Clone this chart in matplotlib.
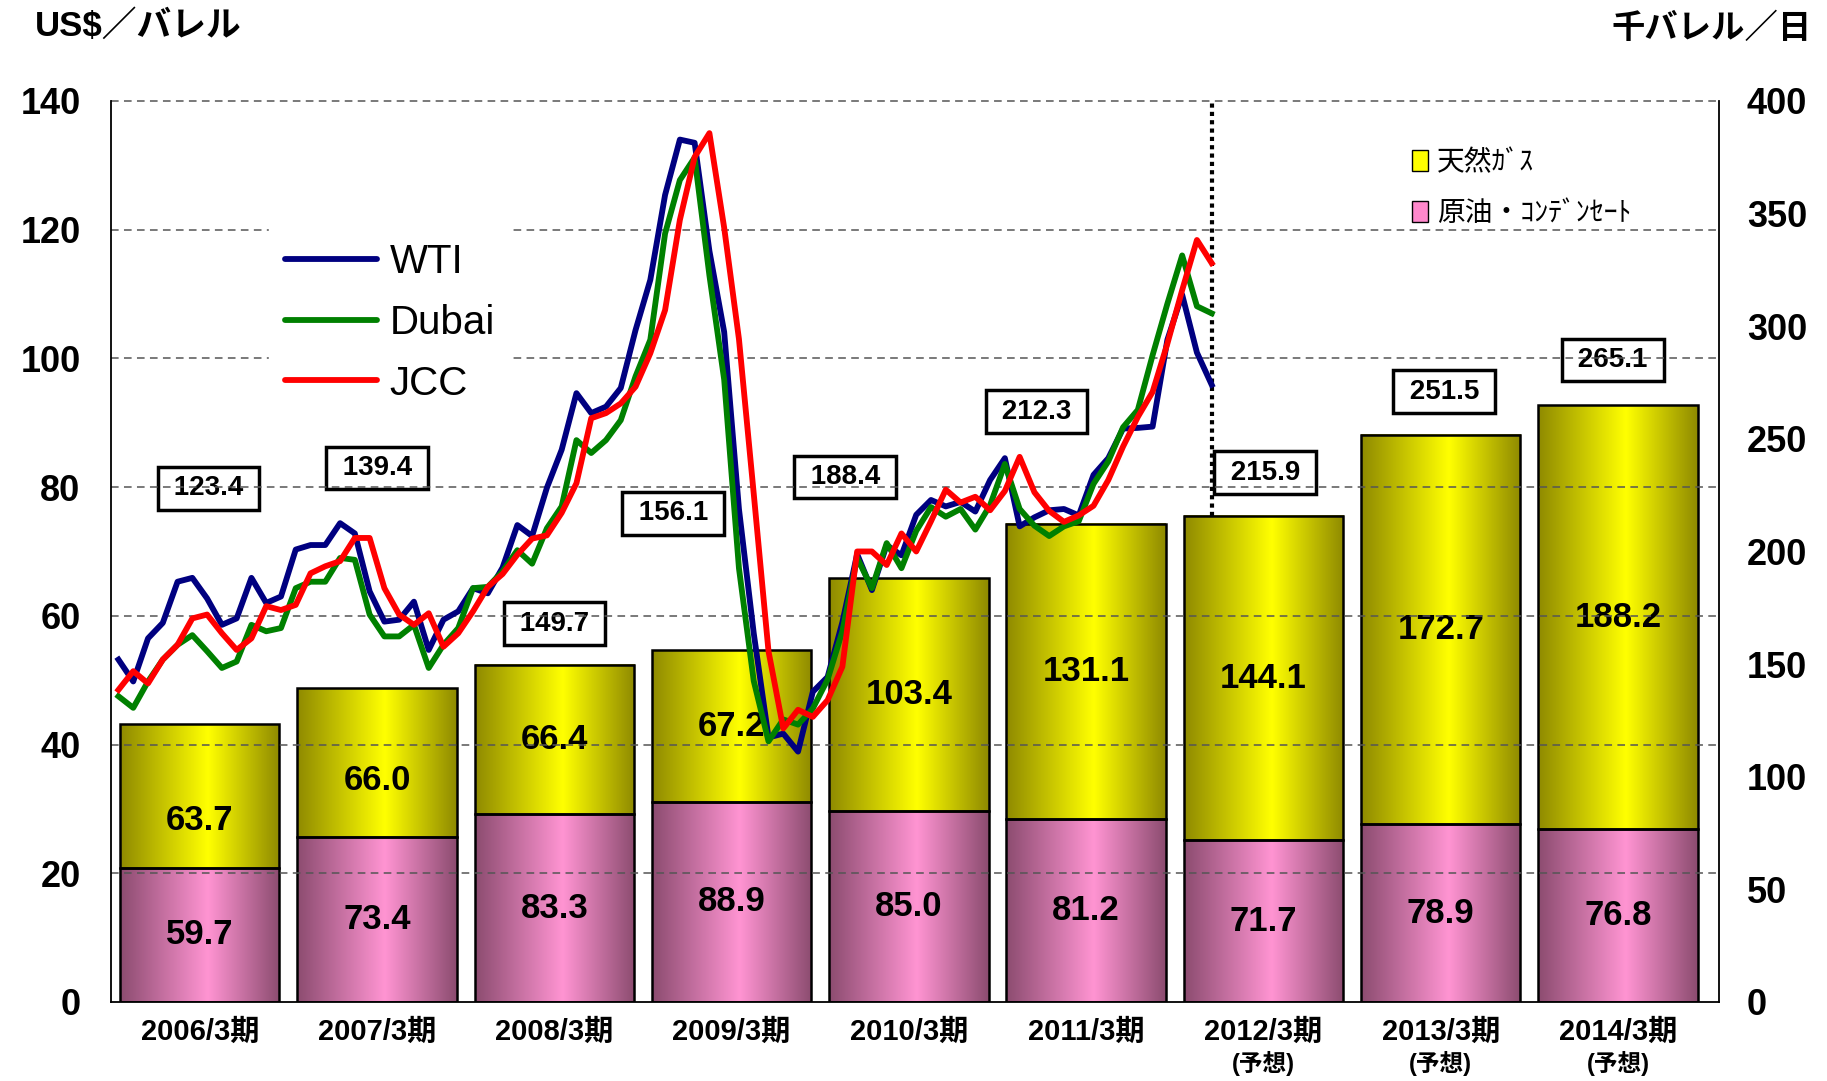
import matplotlib
matplotlib.use("Agg")
import matplotlib.pyplot as plt
import numpy as np
from matplotlib.colors import LinearSegmentedColormap
from matplotlib.patches import Patch

plt.rcParams["font.family"] = ["Liberation Sans", "Noto Sans CJK JP"]

# fiscal years (bars, right axis: 千バレル/日)
periods = ["2006/3期", "2007/3期", "2008/3期", "2009/3期", "2010/3期",
           "2011/3期", "2012/3期", "2013/3期", "2014/3期"]
forecast = [False, False, False, False, False, False, True, True, True]
crude = [59.7, 73.4, 83.3, 88.9, 85.0, 81.2, 71.7, 78.9, 76.8]
gas = [63.7, 66.0, 66.4, 67.2, 103.4, 131.1, 144.1, 172.7, 188.2]
totals = [123.4, 139.4, 149.7, 156.1, 188.4, 212.3, 215.9, 251.5, 265.1]

# monthly prices Apr 2005 - Jun 2011 (left axis: US$/バレル)
wti = [53.2, 49.8, 56.5, 58.9, 65.3, 65.9, 62.7, 58.6, 59.6,
       65.9, 62.0, 63.0, 70.3, 71.0, 71.0, 74.4, 72.8, 63.8, 59.1, 59.4, 62.2,
       54.7, 59.4, 60.7, 64.3, 63.5, 67.5, 74.1, 72.4, 79.9, 85.8, 94.6, 91.5,
       92.5, 95.4, 104.4, 112.2, 125.4, 134.0, 133.5, 116.7, 104.1, 76.6, 57.3, 41.1,
       41.7, 38.9, 48.2, 50.5, 59.0, 69.6, 64.0, 71.0, 69.4, 75.7, 78.0, 77.0,
       77.7, 76.2, 81.1, 84.5, 73.9, 75.3, 76.4, 76.6, 75.6, 81.9, 84.5, 89.1,
       89.2, 89.4, 102.9, 109.9, 100.9, 95.9]
dubai = [47.5, 45.7, 49.8, 53.2, 55.5, 57.0, 54.5, 51.9, 52.9,
         58.6, 57.6, 58.1, 64.3, 65.3, 65.3, 69.0, 68.7, 60.2, 56.8, 56.8, 58.6,
         51.9, 55.5, 58.1, 64.3, 64.5, 66.9, 70.2, 68.1, 73.6, 77.0, 87.3, 85.3,
         87.3, 90.4, 97.2, 102.9, 119.4, 127.7, 131.2, 112.9, 96.7, 67.4, 49.9, 40.5,
         43.9, 43.1, 45.6, 50.1, 57.6, 69.0, 64.3, 71.3, 67.4, 73.2, 76.9, 75.4,
         76.6, 73.4, 77.2, 83.6, 76.6, 74.0, 72.4, 73.9, 74.7, 80.5, 84.0, 89.3,
         92.0, 100.5, 108.5, 116.0, 108.1, 107.0]
jcc = [48.5, 51.4, 49.5, 53.2, 55.5, 59.6, 60.2, 57.3, 54.7,
       56.5, 61.5, 60.9, 61.7, 66.6, 67.7, 68.5, 72.1, 72.1, 64.3, 60.2, 58.6,
       60.4, 55.2, 57.3, 60.7, 64.5, 66.5, 69.5, 72.0, 72.5, 76.0, 80.6, 90.7,
       91.5, 93.0, 95.6, 100.8, 107.5, 121.5, 131.3, 135.0, 120.3, 103.0, 79.0, 54.5,
       42.5, 45.4, 44.3, 46.9, 52.1, 70.0, 70.0, 67.9, 72.8, 70.0, 74.7, 79.6,
       77.6, 78.5, 76.4, 79.4, 84.7, 79.2, 76.3, 74.6, 75.6, 77.1, 81.1, 86.3,
       90.9, 94.8, 102.3, 110.6, 118.4, 114.8]

# layout of the total boxes (x shift in slots, y in right-axis units)
box_dx = [0.05, 0.0, 0.0, -0.33, -0.36, -0.28, 0.01, 0.02, -0.03]
box_y = [228, 237, 168, 217, 233, 262, 235, 271, 285]
gas_shift = [-11, -8, 0, 0, 0, 0, 0, 0, 0]

fig = plt.figure(figsize=(18.27, 10.81), dpi=100)
ax_bar = fig.add_axes([0.0608, 0.0731, 0.8801, 0.8335])
ax_line = ax_bar.twinx()
x_max = 8.57

# gradient bars
g = np.linspace(0, 1, 256)
profile = np.where(g < 0.55, g / 0.55, (1 - g) / 0.45)[None, :]
yellow_cmap = LinearSegmentedColormap.from_list("yel", ["#8f8a00", "#ffff00"])
pink_cmap = LinearSegmentedColormap.from_list("pnk", ["#8c4c70", "#ff94d2"])

x = np.arange(len(periods))
bar_w = 0.9
for i, (c, gv) in enumerate(zip(crude, gas)):
    ax_bar.imshow(profile, extent=[i - bar_w / 2, i + bar_w / 2, 0, c],
                  aspect="auto", cmap=pink_cmap, zorder=1, interpolation="bilinear")
    ax_bar.imshow(profile, extent=[i - bar_w / 2, i + bar_w / 2, c, c + gv],
                  aspect="auto", cmap=yellow_cmap, zorder=1, interpolation="bilinear")
ax_bar.bar(x, crude, width=bar_w, facecolor="none", edgecolor="black", lw=1.8, zorder=2)
ax_bar.bar(x, gas, bottom=crude, width=bar_w, facecolor="none", edgecolor="black",
           lw=1.8, zorder=2)

for i in range(len(periods)):
    ax_bar.text(i, crude[i] / 2, f"{crude[i]:.1f}", ha="center", va="center",
                fontsize=25, fontweight="bold", zorder=3)
    ax_bar.text(i, crude[i] + gas[i] / 2 + gas_shift[i], f"{gas[i]:.1f}",
                ha="center", va="center", fontsize=25, fontweight="bold", zorder=3)
    ax_bar.text(i + box_dx[i], box_y[i], f" {totals[i]:.1f} ", ha="center",
                va="center", fontsize=20, fontweight="bold", zorder=3,
                bbox=dict(boxstyle="square,pad=0.3", fc="white", ec="black", lw=2.5))

ax_bar.set_xlim(-0.5, x_max)
ax_bar.set_ylim(0, 400)
ax_bar.set_yticks(range(0, 401, 50))
ax_bar.yaxis.tick_right()
ax_bar.tick_params(axis="y", length=0, pad=20, labelsize=26)
for lab in ax_bar.get_yticklabels():
    lab.set_fontweight("bold")
ax_bar.set_xticks([])
for s in ax_bar.spines.values():
    s.set_visible(False)

# price lines
mx = -0.5 + (np.arange(len(wti)) + 0.5) / 12
ax_line.plot(mx, wti, color="#000080", lw=4.2, label="WTI", zorder=4)
ax_line.plot(mx, dubai, color="#008000", lw=4.2, label="Dubai", zorder=4)
ax_line.plot(mx, jcc, color="#ff0000", lw=4.2, label="JCC", zorder=4)
ax_line.plot([mx[-1], mx[-1]], [totals[6] * 140 / 400, 140], color="black",
             lw=3, linestyle=(0, (1, 1)), zorder=3)

ax_line.set_ylim(0, 140)
ax_line.set_xlim(-0.5, x_max)
ax_line.set_yticks(range(0, 141, 20))
ax_line.yaxis.tick_left()
ax_line.tick_params(axis="y", length=0, pad=22, labelsize=26)
for lab in ax_line.get_yticklabels():
    lab.set_fontweight("bold")
for v in range(20, 141, 20):
    ax_line.axhline(v, color="#555555", lw=1.1, dashes=(5, 3.5), zorder=2,
                    clip_on=False)
ax_line.spines["top"].set_visible(False)
for s in ["left", "right", "bottom"]:
    ax_line.spines[s].set_color("black")
    ax_line.spines[s].set_linewidth(1.3)

leg = ax_line.legend(loc="center left", bbox_to_anchor=(0.098, 0.754), fontsize=29,
                     frameon=True, framealpha=1, edgecolor="white", handlelength=2.3,
                     handletextpad=0.3, labelspacing=0.57, borderaxespad=0,
                     fancybox=False)
for h in leg.get_lines():
    h.set_solid_capstyle("round")
leg.set_zorder(5)

bar_handles = [Patch(facecolor="#ffff00", edgecolor="black", label="天然ｶﾞｽ"),
               Patch(facecolor="#ff88cc", edgecolor="black", label="原油・ｺﾝﾃﾞﾝｾｰﾄ")]
leg2 = ax_line.legend(handles=bar_handles, loc="center left",
                      bbox_to_anchor=(0.802, 0.903), fontsize=20, frameon=False,
                      handlelength=0.6, handleheight=0.8, handletextpad=0.3,
                      labelspacing=0.9, borderaxespad=0)
ax_line.add_artist(leg)

# category labels
for i, name in enumerate(periods):
    ax_bar.text(i, -0.033, name, transform=ax_bar.get_xaxis_transform(),
                ha="center", va="center", fontsize=21, fontweight="bold")
    if forecast[i]:
        ax_bar.text(i, -0.068, "(予想)", transform=ax_bar.get_xaxis_transform(),
                    ha="center", va="center", fontsize=17, fontweight="bold")

fig.text(35 / 1827, 1 - 26 / 1081, "US$／バレル", ha="left", va="center",
         fontsize=25, fontweight="bold")
fig.text(1812 / 1827, 1 - 29 / 1081, "千バレル／日", ha="right", va="center",
         fontsize=24, fontweight="bold")

fig.savefig("out.png", dpi=100)
